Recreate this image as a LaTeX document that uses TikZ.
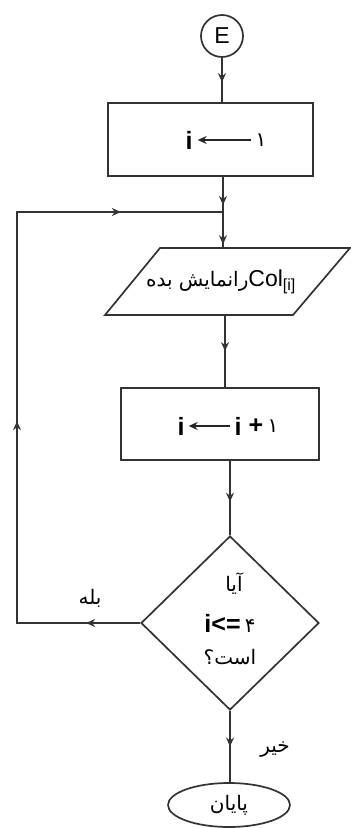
\documentclass[tikz,border=0pt]{standalone}
\usepackage{fontspec}
\setmainfont{Liberation Sans}
\newfontfamily\fa[Script=Arabic]{DejaVu Sans}
\TeXXeTstate=1
\usetikzlibrary{arrows.meta,decorations.markings,shapes.geometric,calc}
\begin{document}
\begin{tikzpicture}[x=1pt,y=-1pt,
  ln/.style={draw=black!80, line width=1.7pt},
  headtip/.style={postaction={decorate},decoration={markings,mark=at position #1 with {\arrow{Stealth[length=9pt,width=8pt]}}}},
  lat/.style={font=\bfseries\fontsize{25}{27}\selectfont, inner sep=0pt},
  per/.style={font=\fa\fontsize{20}{22}\selectfont, inner sep=0pt},
  txtarrow/.style={draw=black!85, line width=2pt, -{Stealth[length=9pt,width=8pt]}},
]
\useasboundingbox (0,0) rectangle (351,828);

% start circle
\node[circle, ln, minimum size=42pt, inner sep=0pt, font=\fontsize{23}{23}\selectfont] (E) at (222,36) {E};

% box 1
\node[rectangle, ln, minimum width=205pt, minimum height=73pt, inner sep=0pt] (b1) at (210.5,139.5) {};
\node[lat] (b1i) at (189,140) {i};
\node[per] (b1n) at (261,140) {۱};
\draw[txtarrow] ($(b1n.west)+(-4,0)$) -- ($(b1i.east)+(5,0)$);

% junction
\coordinate (J) at (223,212);
\coordinate (L1) at (17,212);
\coordinate (L2) at (17,623);

% parallelogram
\coordinate (pA) at (105,315);
\coordinate (pB) at (293,315);
\coordinate (pC) at (350,248);
\coordinate (pD) at (160,248);
\draw[ln, line join=miter] (pA) -- (pB) -- (pC) -- (pD) -- cycle;
\coordinate (pN) at (225,248);
\coordinate (pS) at (225,315);
\node[inner sep=0pt] (p) at (221,282) {\beginR\beginL{\fontsize{23}{24}\selectfont Col\textsubscript{[i]}}\endL{\fa\fontsize{20}{22}\selectfont رانمایش بده}\endR};

% box 2
\node[rectangle, ln, minimum width=198pt, minimum height=72pt, inner sep=0pt] (b2) at (220,424) {};
\node[lat] (b2i) at (181,426) {i};
\node[lat] (b2j) at (238,426) {i};
\node[lat] (b2p) at (256,426) {+};
\node[per] (b2n) at (273,426) {۱};
\draw[txtarrow] ($(b2j.west)+(-4,0)$) -- ($(b2i.east)+(4,0)$);

% decision
\node[diamond, ln, minimum width=178pt, minimum height=174pt, inner sep=0pt] (d) at (230,623) {};
\node[per] (da) at (234,584) {\beginR آیا\endR};
\node[lat] (dm) at (230,623) {i<=\,{\fa\mdseries\fontsize{20}{22}\selectfont ۴}};
\node[per] (db) at (230,657) {\beginR است؟\endR};

% end
\node[ellipse, ln, minimum width=122pt, minimum height=44pt, inner sep=0pt, font=\fa\fontsize{20}{22}\selectfont] (end) at (229,805) {\beginR پایان\endR};

% labels
\node[per] (yes) at (90,598) {\beginR بله\endR};
\node[per] (no) at (275,750) {\beginR خیر\endR};

% connectors
\draw[ln, headtip=0.55] (E.south) -- (E.south |- b1.north);
\draw[ln, headtip=0.8] (b1.south -| J) -- (J);
\draw[ln, headtip=0.85] (J) -- (J |- pN) -- (pN);
\draw[ln, headtip=0.5] (pS) -- (pS |- b2.north);
\draw[ln, headtip=0.55] (b2.south -| d.north) -- (d.north);
\draw[ln, headtip=0.5] (d.south) -- (d.south |- end.north);
\draw[ln, line join=miter, postaction={decorate}, decoration={markings,
   mark=at position 54pt with {\arrow{Stealth[length=9pt,width=8pt]}},
   mark=at position 325pt with {\arrow{Stealth[length=9pt,width=8pt]}},
   mark=at position 638pt with {\arrow{Stealth[length=9pt,width=8pt]}}}]
   (d.west) -- (L2) -- (L1) -- (J);
\end{tikzpicture}
\end{document}
